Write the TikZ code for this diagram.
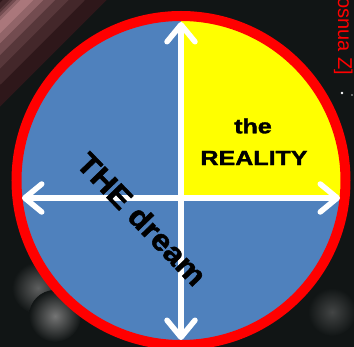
\documentclass[tikz,border=0pt]{standalone}
\usepackage{fontspec}
\setmainfont{Liberation Sans}
\newfontfamily\heavyfont{Liberation Sans}[UprightFont={* Bold},FakeBold=1.6]
\usetikzlibrary{arrows.meta}
\definecolor{bg}{HTML}{111515}
\definecolor{dblue}{HTML}{4F81BD}
\definecolor{ring}{HTML}{FF0000}
\definecolor{yel}{HTML}{FFFF00}
\definecolor{streak}{HTML}{B88286}
\definecolor{haze}{HTML}{2E171A}
\begin{document}
\begin{tikzpicture}[x=1pt,y=-1pt,
  axis/.style={draw=white,line width=5.5pt,line cap=round,
    {Straight Barb[length=17pt,width=28pt,round]}-{Straight Barb[length=17pt,width=28pt,round]}},
  boldtext/.style={font=\heavyfont\fontsize{20.5}{22}\selectfont,text=black,inner sep=0pt}]
\clip (0,0) rectangle (354,347);
\fill[bg] (0,0) rectangle (354,347);
% background blur
\draw[haze,line width=80pt] (-30,80) -- (80,-30);
\draw[streak!15!haze,line width=58pt] (-20,64) -- (64,-20);
\draw[streak!30!haze,line width=42pt] (-15,54) -- (54,-15);
\draw[streak!50!haze,line width=30pt] (-12,46) -- (46,-12);
\draw[streak!72!haze,line width=19pt] (-10,40) -- (40,-10);
\draw[streak!90!haze,line width=9pt] (-8,35) -- (35,-8);
\shade[inner color=gray!70!bg,outer color=bg] (38,288) circle (26pt);
\shade[inner color=gray!90!bg,outer color=bg] (55,316) circle (26pt);
\shade[inner color=gray!45!bg,outer color=bg] (332,312) circle (24pt);
% red text
\node[text=red,font=\fontsize{20}{20}\selectfont,rotate=-90,anchor=base west,inner sep=0pt] (cred) at (338,-3) {osnua Z]};
\fill[white] (342,93) circle (1.3pt);
\fill[white!70!bg] (352,95) circle (0.9pt);
% circle
\coordinate (c) at (181,180.5);
\fill[dblue] (c) circle (160pt);
\begin{scope}
  \clip (c) circle (160pt);
  \fill[yel] (181,0) rectangle (354,198);
\end{scope}
\draw[ring,line width=10pt] (c) circle (164.5pt);
% axes
\coordinate (top) at (181,22);
\coordinate (bot) at (181,340);
\coordinate (lft) at (22,198);
\coordinate (rgt) at (340,198);
\draw[axis] (top) -- (bot);
\draw[axis] (lft) -- (rgt);
% labels
\node[boldtext,xscale=1.22] (the) at (253,126) {the};
\node[boldtext,xscale=1.22] (real) at (254,158) {REALITY};
\node[font=\heavyfont\fontsize{30}{32}\selectfont,inner sep=0pt,rotate=-46,xscale=1.08] (dream) at (142,219) {THE dream};
\end{tikzpicture}
\end{document}
